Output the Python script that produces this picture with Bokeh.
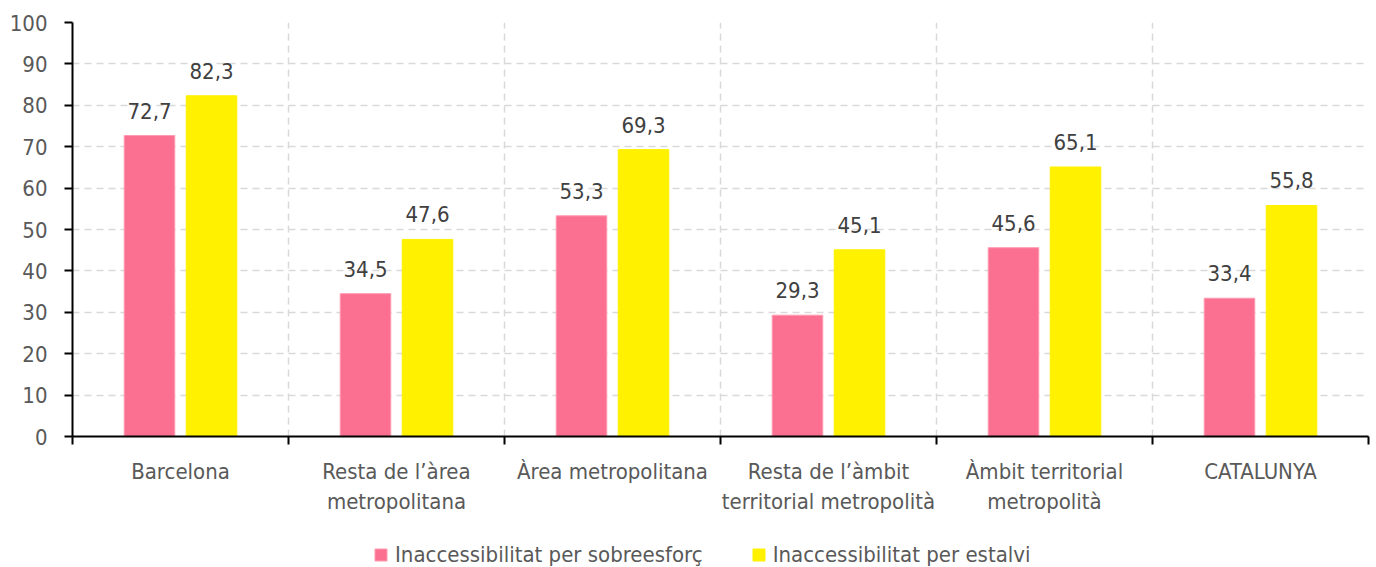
from bokeh.plotting import figure
from bokeh.layouts import column
from bokeh.models import (ColumnDataSource, FixedTicker, LinearAxis, Legend, LegendItem,
                          LabelSet, Range1d, Grid)
from bokeh.core.properties import value
from bokeh.embed import file_html
from bokeh.resources import INLINE

categories = ["Barcelona", "Resta de l’àrea\nmetropolitana", "Àrea metropolitana",
              "Resta de l’àmbit\nterritorial metropolità", "Àmbit territorial\nmetropolità",
              "CATALUNYA"]
sobreesforc = [72.7, 34.5, 53.3, 29.3, 45.6, 33.4]
estalvi = [82.3, 47.6, 69.3, 45.1, 65.1, 55.8]
series_names = ["Inaccessibilitat per sobreesforç", "Inaccessibilitat per estalvi"]
y_ticks = list(range(0, 101, 10))

FONT = "DejaVu Sans Condensed"
FS = "22px"
PINK = "#FB7090"
YELLOW = "#FFF100"
GRAY = "#595959"

n = len(categories)
centers = [i + 0.5 for i in range(n)]
off = 0.1435
bw = 0.234

src1 = ColumnDataSource(dict(x=[c - off for c in centers], top=sobreesforc,
                             lab=[f"{v:.1f}".replace(".", ",") for v in sobreesforc]))
src2 = ColumnDataSource(dict(x=[c + off for c in centers], top=estalvi,
                             lab=[f"{v:.1f}".replace(".", ",") for v in estalvi]))

p = figure(width=1376, height=518, output_backend="svg", toolbar_location=None,
           x_range=Range1d(0, n), y_range=Range1d(0, 100),
           x_axis_location=None, y_axis_location=None,
           min_border_left=72, min_border_right=8, min_border_top=22, min_border_bottom=82)
p.outline_line_color = None
p.xgrid.grid_line_color = None
p.ygrid.grid_line_color = None

hg = Grid(dimension=1, ticker=FixedTicker(ticks=y_ticks[1:]), grid_line_color="#D9D9D9",
          grid_line_width=1.5, grid_line_dash="7 5")
vg = Grid(dimension=0, ticker=FixedTicker(ticks=list(range(1, n + 1))), grid_line_color="#D9D9D9",
          grid_line_width=1.5, grid_line_dash="7 5")
p.add_layout(hg)
p.add_layout(vg)

r1 = p.vbar(x="x", top="top", width=bw, source=src1, fill_color=PINK, line_color="#FF9AB0", line_width=1)
r2 = p.vbar(x="x", top="top", width=bw, source=src2, fill_color=YELLOW, line_color=YELLOW, line_width=1)

for s in (src1, src2):
    p.add_layout(LabelSet(x="x", y="top", text="lab", source=s, text_align="center",
                          text_baseline="alphabetic", y_offset=17, text_font_size=value(FS),
                          text_color="#404040", text_font=value(FONT)))

yax = LinearAxis(ticker=FixedTicker(ticks=y_ticks))
yax.axis_line_color = "black"
yax.axis_line_width = 2
yax.major_tick_line_color = "black"
yax.major_tick_line_width = 2
yax.major_tick_in = 0
yax.major_tick_out = 8
yax.minor_tick_line_color = None
yax.major_label_text_font = FONT
yax.major_label_text_font_size = FS
yax.major_label_text_color = GRAY
yax.major_label_standoff = 17
p.add_layout(yax, "left")

xax = LinearAxis(ticker=FixedTicker(ticks=centers, minor_ticks=list(range(0, n + 1))))
xax.major_label_overrides = {c: lab for c, lab in zip(centers, categories)}
xax.axis_line_color = "black"
xax.axis_line_width = 2
xax.major_tick_line_color = None
xax.major_tick_in = 0
xax.major_tick_out = 0
xax.minor_tick_line_color = "black"
xax.minor_tick_line_width = 2
xax.minor_tick_in = 0
xax.minor_tick_out = 8
xax.major_label_text_font = FONT
xax.major_label_text_font_size = FS
xax.major_label_text_color = GRAY
xax.major_label_standoff = 14
p.add_layout(xax, "below")

# legend in a small companion figure (same data sources, bars fall outside its view)
p2 = figure(width=1376, height=49, output_backend="svg", toolbar_location=None,
            x_range=Range1d(0, n), y_range=Range1d(200, 300),
            x_axis_location=None, y_axis_location=None,
            min_border_left=72, min_border_right=8, min_border_top=0, min_border_bottom=0)
p2.outline_line_color = None
p2.xgrid.grid_line_color = None
p2.ygrid.grid_line_color = None
l1 = p2.vbar(x="x", top="top", width=bw, source=src1, fill_color=PINK, line_color="#FF9AB0")
l2 = p2.vbar(x="x", top="top", width=bw, source=src2, fill_color=YELLOW, line_color=YELLOW)
legend = Legend(items=[LegendItem(label=series_names[0], renderers=[l1]),
                       LegendItem(label=series_names[1], renderers=[l2])],
                orientation="horizontal", location=(301, 0),
                glyph_width=15, glyph_height=15, label_standoff=7, spacing=48,
                label_text_font=FONT, label_text_font_size=FS, label_text_color=GRAY,
                padding=0, margin=0, border_line_color=None, background_fill_alpha=0)
p2.add_layout(legend, "center")

open("out.html", "w").write(file_html(column(p, p2, spacing=0), INLINE))
